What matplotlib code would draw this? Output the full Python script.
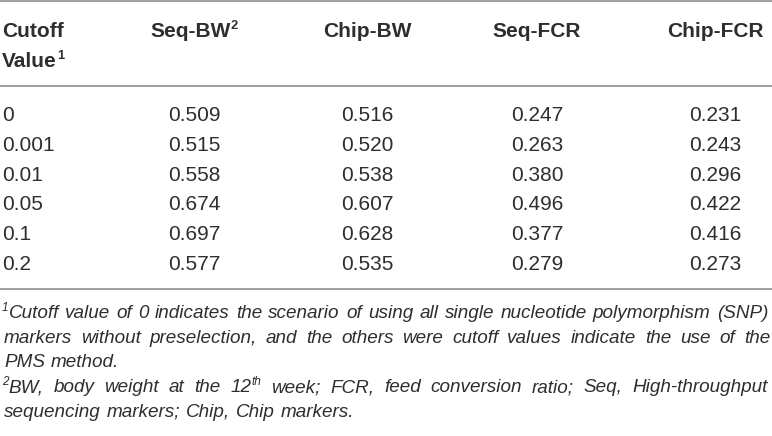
import matplotlib
matplotlib.use('Agg')
import matplotlib.pyplot as plt

plt.rcParams['font.family'] = ['Liberation Sans', 'DejaVu Sans']

# table content
header_first = ['Cutoff', 'Value']
col_names = ['Seq-BW', 'Chip-BW', 'Seq-FCR', 'Chip-FCR']
col_sups = ['2', '', '', '']
cutoffs = ['0', '0.001', '0.01', '0.05', '0.1', '0.2']
seq_bw = [0.509, 0.515, 0.558, 0.674, 0.697, 0.577]
chip_bw = [0.516, 0.520, 0.538, 0.607, 0.628, 0.535]
seq_fcr = [0.247, 0.263, 0.380, 0.496, 0.377, 0.279]
chip_fcr = [0.231, 0.243, 0.296, 0.422, 0.416, 0.273]

# footnotes: each line is a list of words, each word a list of (text, superscript?)
notes = [
    ([[('1', True), ('Cutoff', False)], 'value of 0 indicates the scenario of using all single nucleotide polymorphism (SNP)'], True),
    ([None, 'markers without preselection, and the others were cutoff values indicate the use of the'], True),
    ([None, 'PMS method.'], False),
    ([[('2', True), ('BW,', False)], 'body weight at the', [('12', False), ('th', True)], 'week; FCR, feed conversion ratio; Seq, High-throughput'], True),
    ([None, 'sequencing markers; Chip, Chip markers.'], False),
]

TXT = '#2e2e2e'
RULE = '#a0a0a0'
W, H = 772, 436

fig = plt.figure(figsize=(W / 100, H / 100), dpi=100)
ax = fig.add_axes([0, 0, 1, 1])
ax.set_xlim(0, W)
ax.set_ylim(H, 0)
ax.axis('off')
fig.canvas.draw()
rend = fig.canvas.get_renderer()


def width_of(s, **kw):
    t = ax.text(0, 0, s, **kw)
    w = t.get_window_extent(rend).width
    t.remove()
    return w


def draw_runs(x, y, runs, size, **kw):
    # draws a sequence of (text, sup) runs starting at x on baseline y
    for s, sup in runs:
        fs = size * 0.62 if sup else size
        yy = y - size * 1.389 * 0.38 if sup else y
        ax.text(x, yy, s, fontsize=fs, va='baseline', ha='left', color=TXT, **kw)
        x += width_of(s, fontsize=fs, **kw)
    return x


def runs_width(runs, size, **kw):
    return sum(width_of(s, fontsize=size * 0.62 if sup else size, **kw) for s, sup in runs)


FS = 15
# rules
for yr in [1, 86, 289]:
    ax.plot([0, W], [yr, yr], color=RULE, lw=1.4, solid_capstyle='butt')

# header
draw_runs(2, 37, [('Cutoff', False)], FS, fontweight='bold')
draw_runs(2, 67, [('Value', False), ('1', True)], FS, fontweight='bold')
centers = [194, 367, 537, 715]
for c, name, sup in zip(centers, col_names, col_sups):
    runs = [(name, False)] + ([(sup, True)] if sup else [])
    w = runs_width(runs, FS, fontweight='bold')
    draw_runs(c - w / 2, 37, runs, FS, fontweight='bold')

# body rows
row0, row_h = 121, 29.8
for i, cut in enumerate(cutoffs):
    y = row0 + i * row_h
    ax.text(2, y, cut, fontsize=FS, va='baseline', ha='left', color=TXT)
    for c, vals in zip(centers, [seq_bw, chip_bw, seq_fcr, chip_fcr]):
        ax.text(c, y, f'{vals[i]:.3f}', fontsize=FS, va='baseline', ha='center', color=TXT)

# footnotes, justified
NFS = 13.6
left, right = 4, 770
nb0, nb_h = 318, 24.7
space = width_of(' ', fontsize=NFS, style='italic')
for k, (parts, justify) in enumerate(notes):
    words = []
    for p in parts:
        if p is None:
            continue
        if isinstance(p, str):
            words += [[(wd, False)] for wd in p.split(' ')]
        else:
            words.append(p)
    ws = [runs_width(wd, NFS, style='italic') for wd in words]
    if justify:
        gap = max((right - left - sum(ws)) / (len(words) - 1), space * 0.6)
    else:
        gap = space * 1.1
    x = left if k % 3 else 2
    y = nb0 + k * nb_h
    for wd, wdw in zip(words, ws):
        draw_runs(x, y, wd, NFS, style='italic')
        x += wdw + gap

fig.savefig('out.png', dpi=100)
